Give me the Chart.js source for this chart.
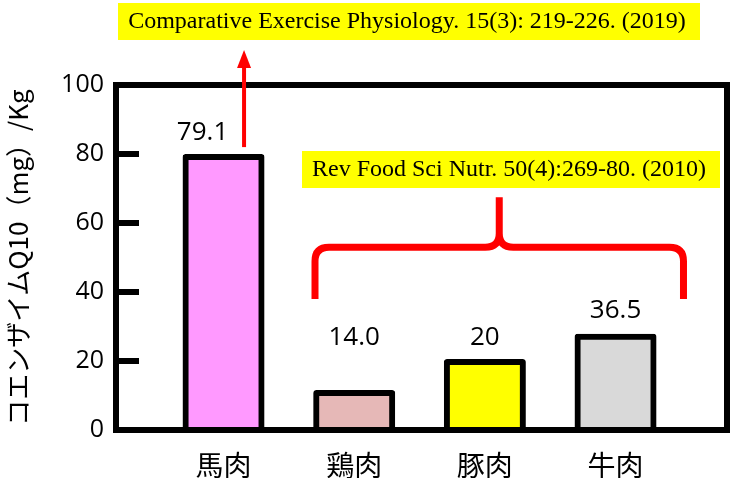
<!DOCTYPE html>
<html>
<head>
<meta charset="utf-8">
<script src="https://cdn.jsdelivr.net/npm/chart.js@4.4.1/dist/chart.umd.min.js"></script>
<style>
	body { margin: 0; background: #fff; }
	#caja { width: 732px; height: 478px; position: relative; }
</style>
</head>
<body>
<div id="caja"><canvas id="myChart"></canvas></div>
<script>
/* datos */
const categories = ['馬肉', '鶏肉', '豚肉', '牛肉'];
const values = [79.1, 10.7, 19.7, 27.0];
const valueLabels = ['79.1', '14.0', '20', '36.5'];
const barColors = ['#ff99ff', '#e6b8b7', '#ffff00', '#d9d9d9'];
const refTexts = [
	'Comparative Exercise Physiology. 15(3): 219-226. (2019)',
	'Rev Food Sci Nutr. 50(4):269-80. (2010)'
];

/* desplazamiento de las etiquetas respecto a la barra (px) */
const labelShift = [[-21, -25], [0, -55], [0, -24], [0, -26]];

/* marco y marcas de graduacion hacia dentro */
const marco = {
	id: 'marco',
	afterDatasetsDraw(chart) {
		const { ctx, chartArea: a, scales: { y } } = chart;
		ctx.save();
		ctx.strokeStyle = '#000';
		ctx.lineWidth = 6;
		ctx.lineJoin = 'miter';
		ctx.strokeRect(a.left, a.top, a.right - a.left, a.bottom - a.top);
		for (const t of y.ticks) {
			const py = y.getPixelForValue(t.value);
			ctx.beginPath();
			ctx.moveTo(a.left, py);
			ctx.lineTo(a.left + 23, py);
			ctx.stroke();
		}
		ctx.restore();
	}
};

/* etiquetas de valores sobre las barras */
const etiquetas = {
	id: 'etiquetas',
	afterDatasetsDraw(chart) {
		const { ctx } = chart;
		const meta = chart.getDatasetMeta(0);
		ctx.save();
		ctx.font = '26px "Open Sans"';
		ctx.fillStyle = '#000';
		ctx.textAlign = 'center';
		ctx.textBaseline = 'middle';
		meta.data.forEach((bar, i) => {
			ctx.fillText(valueLabels[i], bar.x + labelShift[i][0], bar.y + labelShift[i][1]);
		});
		ctx.restore();
	}
};

/* referencias, flecha y llave */
const notas = {
	id: 'notas',
	afterDraw(chart) {
		const { ctx, scales: { x, y } } = chart;
		ctx.save();
		ctx.textAlign = 'center';
		ctx.textBaseline = 'middle';
		ctx.font = '24px "Liberation Serif"';

		ctx.fillStyle = '#ffff00';
		ctx.fillRect(118, 3, 582, 37);
		ctx.fillRect(302, 151, 418, 37);
		ctx.fillStyle = '#000';
		ctx.fillText(refTexts[0], 407, 22);
		ctx.fillText(refTexts[1], 509, 170);

		ctx.strokeStyle = '#ff0000';
		ctx.fillStyle = '#ff0000';

		// flecha
		const ax = x.getPixelForValue(0.157);
		const ay0 = y.getPixelForValue(82);
		const ay1 = 50;
		ctx.lineWidth = 4;
		ctx.beginPath();
		ctx.moveTo(ax, ay0);
		ctx.lineTo(ax, ay1 + 14);
		ctx.stroke();
		ctx.beginPath();
		ctx.moveTo(ax, ay1);
		ctx.lineTo(ax - 7, ay1 + 18);
		ctx.lineTo(ax + 7, ay1 + 18);
		ctx.closePath();
		ctx.fill();

		// llave
		const xl = x.getPixelForValue(0.70);
		const xr = x.getPixelForValue(3.52);
		const xm = (xl + xr) / 2;
		const yb = y.getPixelForValue(38);
		const yh = y.getPixelForValue(53);
		const yt = y.getPixelForValue(67.5);
		const r = 14;
		ctx.lineWidth = 7;
		ctx.lineJoin = 'round';
		ctx.beginPath();
		ctx.moveTo(xl, yb);
		ctx.lineTo(xl, yh + r);
		ctx.quadraticCurveTo(xl, yh, xl + r, yh);
		ctx.lineTo(xm - r, yh);
		ctx.quadraticCurveTo(xm, yh, xm, yh - r);
		ctx.lineTo(xm, yt);
		ctx.moveTo(xm, yh - r);
		ctx.quadraticCurveTo(xm, yh, xm + r, yh);
		ctx.lineTo(xr - r, yh);
		ctx.quadraticCurveTo(xr, yh, xr, yh + r);
		ctx.lineTo(xr, yb);
		ctx.stroke();
		ctx.restore();
	}
};

const data = {
	datasets: [{
		data: values.map((v, i) => ({ x: i, y: v })),
		backgroundColor: barColors,
		borderColor: '#000',
		borderWidth: 6,
		borderSkipped: false,
		borderRadius: 3,
		inflateAmount: 3,
		barThickness: 76
	}]
};

var ctx = document.getElementById('myChart');
var myChart = new Chart(ctx, {
	type: 'bar',
	data: data,
	plugins: [marco, etiquetas, notas],
	options: {
		responsive: true,
		maintainAspectRatio: false,
		animation: false,
		layout: { padding: { top: 85, right: 5, left: 0, bottom: 0 } },
		plugins: {
			legend: { display: false },
			tooltip: { enabled: false }
		},
		scales: {
			x: {
				type: 'linear',
				min: -0.823,
				max: 3.853,
				offset: false,
				grid: { display: false, offset: false },
				border: { display: false },
				afterBuildTicks: s => { s.ticks = categories.map((c, i) => ({ value: i })); },
				afterFit: s => { s.height = 48; },
				ticks: {
					autoSkip: false,
					maxRotation: 0,
					padding: 11,
					color: '#000',
					font: { family: '"Noto Sans CJK JP"', size: 28 },
					callback: v => categories[v]
				}
			},
			y: {
				min: 0,
				max: 100,
				grid: { display: false, drawTicks: false },
				border: { display: false },
				afterFit: s => { s.width = 116; },
				ticks: {
					stepSize: 20,
					padding: 12,
					color: '#000',
					font: { family: '"Open Sans"', size: 25 }
				},
				title: {
					display: true,
					text: 'コエンザイムQ10（mg）/Kg',
					color: '#000',
					padding: { top: 3, bottom: 0 },
					font: { family: '"Noto Sans CJK JP"', size: 26 }
				}
			}
		}
	}
});
</script>
</body>
</html>
